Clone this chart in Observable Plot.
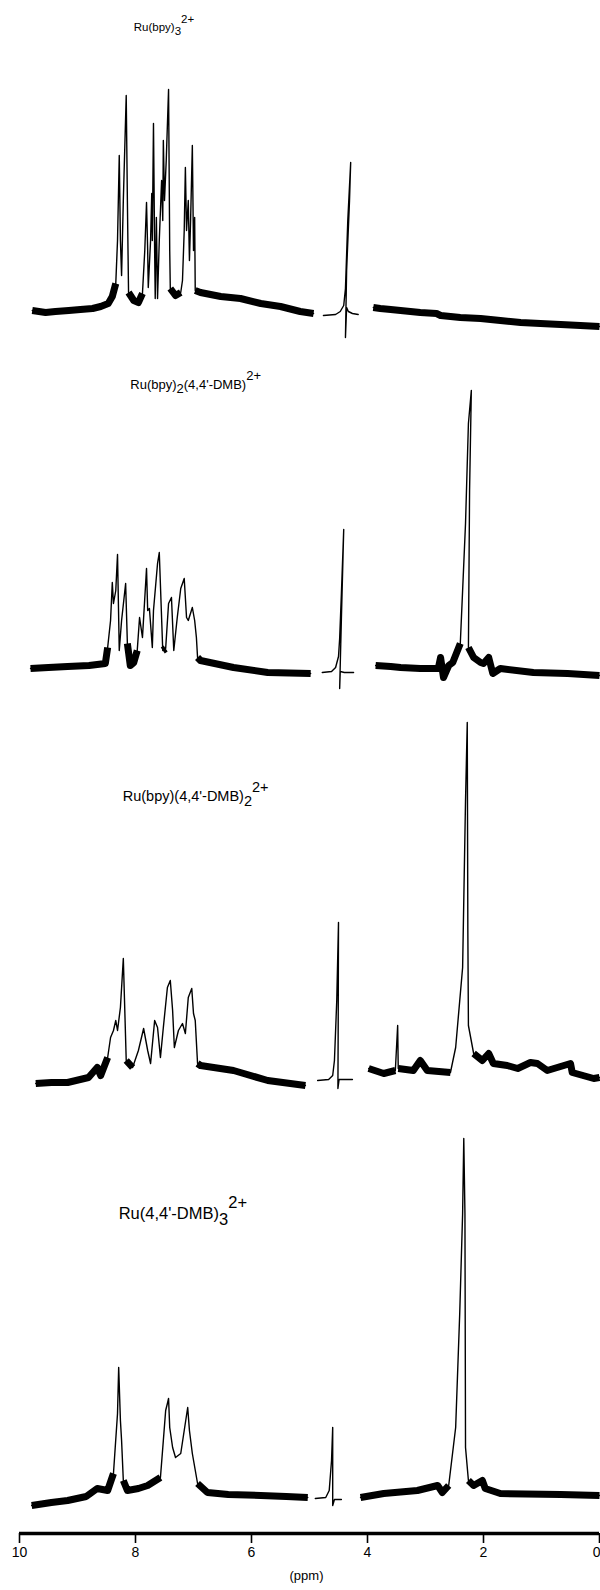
<!DOCTYPE html>
<html>
<head>
<meta charset="utf-8">
<script src="https://cdn.jsdelivr.net/npm/d3@7"></script>
<script src="https://cdn.jsdelivr.net/npm/@observablehq/plot@0.6"></script>
<style>
  html, body { margin: 0; padding: 0; background: #fff; }
  #chart svg { display: block; }
</style>
</head>
<body>
<div id="chart"></div>
<script>
// Chemical-shift ticks (ppm) on the shared axis
const ppmTicks = [10, 8, 6, 4, 2, 0];

// Complex names; _{..} is a subscript, ^{..} a superscript
const complexNames = [
  "Ru(bpy)_{3}^{2+}",
  "Ru(bpy)_{2}(4,4'-DMB)^{2+}",
  "Ru(bpy)(4,4'-DMB)_{2}^{2+}",
  "Ru(4,4'-DMB)_{3}^{2+}"
];

// Recorded traces as [ppm, signal height] vertices, one array per sweep
// Ru(bpy)3 2+
const bpy3Aromatic = [[9.78,0],[9.55,-2],[9.38,-1],[9.15,0],[8.95,1],[8.74,2],[8.60,4],[8.47,7],[8.40,14],[8.34,27],[8.31,70],[8.28,155],[8.26,70],[8.24,35],[8.21,110],[8.16,215],[8.14,110],[8.12,18],[8.03,10],[7.95,8],[7.88,17],[7.84,60],[7.81,108],[7.79,60],[7.78,23],[7.74,70],[7.72,117],[7.71,70],[7.69,187],[7.67,60],[7.66,12],[7.64,93],[7.62,12],[7.59,70],[7.55,130],[7.53,90],[7.52,170],[7.50,110],[7.47,150],[7.43,221],[7.41,60],[7.40,22],[7.31,15],[7.22,18],[7.19,30],[7.16,80],[7.14,143],[7.12,80],[7.09,110],[7.07,50],[7.05,90],[7.02,165],[7.00,60],[6.98,93],[6.97,20],[6.88,18],[6.53,14],[6.19,12],[5.84,7],[5.50,4],[5.16,-1],[4.93,-3]];
const bpy3Solvent = [[4.76,-5],[4.55,-4],[4.47,-1],[4.41,5],[4.38,22],[4.34,90],[4.29,148],[4.31,110],[4.36,40],[4.38,-27],[4.36,3],[4.33,-1],[4.26,-3],[4.16,-4]];
const bpy3Aliphatic = [[3.90,3],[3.78,2],[3.60,1],[3.43,0],[3.09,-2],[2.81,-3],[2.74,-5],[2.40,-7],[2.05,-8],[1.71,-10],[1.36,-12],[1.02,-13],[0.67,-14],[0.33,-15],[0.00,-16]];

// Ru(bpy)2(4,4'-DMB) 2+
const bpy2dmbAromatic = [[9.81,0],[9.50,1],[9.17,2],[8.80,3],[8.52,5],[8.48,21],[8.43,48],[8.40,86],[8.38,65],[8.34,78],[8.31,114],[8.28,18],[8.24,48],[8.17,85],[8.14,25],[8.09,3],[8.03,6],[7.97,18],[7.93,51],[7.88,31],[7.81,100],[7.79,58],[7.76,60],[7.71,21],[7.69,58],[7.62,105],[7.59,116],[7.53,18],[7.48,20],[7.43,65],[7.38,71],[7.34,18],[7.28,51],[7.22,80],[7.16,90],[7.12,51],[7.09,48],[7.02,61],[6.98,48],[6.95,31],[6.93,11],[6.88,8],[6.31,1],[5.72,-4],[4.98,-5]];
const bpy2dmbSolvent = [[4.78,-4],[4.62,-3],[4.55,1],[4.50,12],[4.48,30],[4.45,75],[4.41,139],[4.45,50],[4.48,-20],[4.47,-3],[4.40,-4],[4.33,-4],[4.24,-4]];
const bpy2dmbAliphatic = [[3.86,3],[3.60,2],[3.43,1],[3.09,0],[2.78,0],[2.74,11],[2.69,-9],[2.60,3],[2.53,6],[2.40,25],[2.36,78],[2.31,145],[2.26,245],[2.21,278],[2.24,178],[2.26,21],[2.17,11],[2.05,6],[2.00,5],[1.91,11],[1.84,-5],[1.71,0],[1.14,-4],[0.55,-5],[0.00,-7]];

// Ru(bpy)(4,4'-DMB)2 2+
const bpyDmb2Aromatic = [[9.72,-3],[9.45,-2],[9.17,-2],[8.81,3],[8.66,13],[8.60,5],[8.48,23],[8.43,43],[8.38,50],[8.34,60],[8.31,50],[8.26,73],[8.21,122],[8.16,20],[8.05,13],[7.95,30],[7.86,52],[7.79,30],[7.74,17],[7.67,60],[7.62,53],[7.57,23],[7.52,53],[7.45,93],[7.40,100],[7.36,70],[7.33,33],[7.26,50],[7.19,57],[7.14,47],[7.09,83],[7.03,92],[7.00,67],[6.97,60],[6.93,17],[6.88,15],[6.31,10],[5.72,0],[5.07,-5]];
const bpyDmb2Solvent = [[4.86,0],[4.67,1],[4.60,5],[4.57,20],[4.53,80],[4.50,158],[4.505,60],[4.51,-8],[4.49,1],[4.38,1],[4.26,1]];
const bpyDmb2Aliphatic = [[3.98,12],[3.72,7],[3.52,10],[3.48,55],[3.47,12],[3.21,10],[3.09,20],[2.97,10],[2.57,8],[2.48,33],[2.36,113],[2.31,280],[2.28,358],[2.27,150],[2.26,55],[2.17,27],[2.02,20],[1.91,27],[1.83,17],[1.59,15],[1.41,12],[1.19,18],[1.07,17],[0.90,10],[0.50,17],[0.47,8],[0.10,2],[0.00,3]];

// Ru(4,4'-DMB)3 2+
const dmb3Aromatic = [[9.79,-7],[9.45,-4],[9.17,-2],[8.85,2],[8.66,10],[8.48,8],[8.38,25],[8.31,85],[8.29,131],[8.26,78],[8.24,58],[8.21,18],[8.14,8],[7.95,10],[7.79,13],[7.57,21],[7.52,58],[7.48,88],[7.45,95],[7.43,100],[7.41,71],[7.36,51],[7.31,41],[7.22,45],[7.16,68],[7.10,91],[7.07,68],[7.02,45],[6.93,15],[6.76,6],[6.40,4],[5.84,3],[5.40,2],[5.03,1]];
const dmb3Solvent = [[4.90,0],[4.72,1],[4.66,8],[4.62,38],[4.60,71],[4.60,-7],[4.57,-1],[4.45,-1]];
const dmb3Aliphatic = [[4.12,1],[3.72,5],[3.14,8],[2.79,13],[2.71,6],[2.60,13],[2.48,71],[2.41,185],[2.36,285],[2.34,360],[2.32,285],[2.31,51],[2.26,18],[2.17,13],[2.02,18],[1.97,10],[1.71,5],[0.67,4],[0.00,3]];

// ---- layout ----
const W = 600, H = 1590;
const stackBase = [1223, 865, 453, 35];   // reference level of each stacked trace (y units)
const labelRise = 280;                     // label baseline above its trace
const labelPpm = [8.03, 8.09, 8.22, 8.29];
const labelSize = [11.5, 13, 14.5, 16.5];
const bandLimit = 28;                      // below this the noisy baseline band is drawn

const sweeps = [
  [bpy3Aromatic, bpy3Solvent, bpy3Aliphatic],
  [bpy2dmbAromatic, bpy2dmbSolvent, bpy2dmbAliphatic],
  [bpyDmb2Aromatic, bpyDmb2Solvent, bpyDmb2Aliphatic],
  [dmb3Aromatic, dmb3Solvent, dmb3Aliphatic]
];

const rows = [];
sweeps.forEach((segs, s) => segs.forEach((seg, j) => seg.forEach(([ppm, h]) =>
  rows.push({ppm, h, s, seg: `${s}-${j}`, solvent: j === 1}))));

const labels = complexNames.map((name, s) => ({name, s, ppm: labelPpm[s]}));

const fontFamily = "'Liberation Sans', Arial, sans-serif";
const lastTick = ppmTicks[ppmTicks.length - 1];

const chart = Plot.plot({
  width: W,
  height: H,
  marginTop: 0,
  marginBottom: 57,
  marginLeft: 0,
  marginRight: 0,
  style: {fontFamily, background: "#fff", color: "#000"},
  x: {domain: [ppmTicks[0], lastTick], range: [19, 599]},
  y: {domain: [0, H - 57], axis: null},
  marks: [
    // noisy baseline band
    Plot.line(rows.filter(d => !d.solvent), {
      x: "ppm",
      y: d => d.h < bandLimit ? stackBase[d.s] + d.h : NaN,
      z: "seg", stroke: "#000", strokeWidth: 7, strokeLinejoin: "round", strokeLinecap: "butt"
    }),
    // pen trace
    Plot.line(rows, {
      x: "ppm",
      y: d => stackBase[d.s] + d.h,
      z: "seg", stroke: "#000", strokeWidth: 1.4, strokeLinejoin: "round"
    }),
    // complex names
    Plot.text(labels, {
      x: "ppm",
      y: d => stackBase[d.s] + labelRise,
      text: "name",
      textAnchor: "start",
      lineAnchor: "bottom",
      fontSize: d => labelSize[d.s],
      fill: "#000"
    }),
    // ppm axis: line, ticks, tick labels, unit
    Plot.ruleY([{y: 0, from: ppmTicks[0], to: lastTick}], {
      y: "y", x1: "from", x2: "to", stroke: "#000", strokeWidth: 3.5
    }),
    Plot.axisX({
      ticks: ppmTicks, tickSize: 10, tickFormat: () => "",
      stroke: "#000", strokeWidth: 1.6, label: null
    }),
    Plot.text(ppmTicks.filter(t => t !== lastTick), {
      x: d => d, text: d => String(d), frameAnchor: "bottom",
      lineAnchor: "middle", dy: 19, fontSize: 14, fill: "#000"
    }),
    Plot.text([lastTick], {
      x: d => d, text: d => String(d), frameAnchor: "bottom",
      lineAnchor: "middle", textAnchor: "end", dx: 1, dy: 19, fontSize: 14, fill: "#000"
    }),
    Plot.text(["(ppm)"], {text: d => d, frameAnchor: "bottom", dy: 46, dx: 6, fontSize: 13, fill: "#000"})
  ]
});

// turn _{..} / ^{..} markup into lowered / raised tspans
function setRichText(el, markup) {
  const parts = markup.split(/(_\{[^}]*\}|\^\{[^}]*\})/).filter(p => p);
  el.textContent = "";
  let shift = 0;
  for (const p of parts) {
    let target = 0, str = p;
    if (p.startsWith("_{")) { target = 0.38; str = p.slice(2, -1); }
    else if (p.startsWith("^{")) { target = -0.62; str = p.slice(2, -1); }
    const ts = document.createElementNS("http://www.w3.org/2000/svg", "tspan");
    const dy = +(target - shift).toFixed(3);
    if (dy) ts.setAttribute("dy", dy + "em");
    ts.textContent = str;
    el.appendChild(ts);
    shift = target;
  }
}
chart.querySelectorAll("text").forEach(el => {
  const t = el.textContent;
  if (/[_^]\{/.test(t)) setRichText(el, t);
});

document.getElementById("chart").appendChild(chart);
</script>
</body>
</html>
